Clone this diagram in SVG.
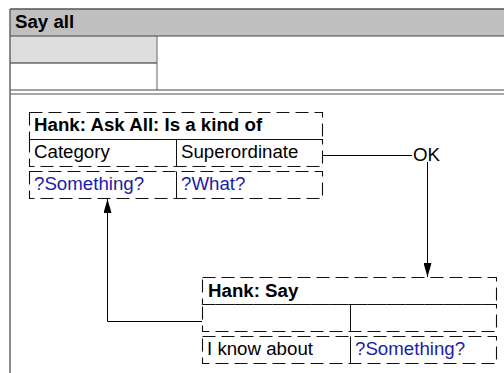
<svg xmlns="http://www.w3.org/2000/svg" width="504" height="373" viewBox="0 0 504 373">
<style>
text{font-family:"Liberation Sans",Arial,sans-serif;font-size:18.7px;fill:#000}
.b{font-weight:bold}
.v{fill:#1c1ca8}
.d{fill:none;stroke:#111;stroke-width:1.1;stroke-dasharray:13 6}
.s{fill:none;stroke:#111;stroke-width:1}
.c{fill:none;stroke:#000;stroke-width:1}
</style>
<defs>
<marker id="ah" viewBox="0 0 14 8" refX="14" refY="4" markerWidth="14" markerHeight="8" markerUnits="userSpaceOnUse" orient="auto">
<path d="M0,0 L14,4 L0,8 Z" fill="#000"/>
</marker>
</defs>
<rect width="504" height="373" fill="#fff"/>
<g id="frame">
<rect x="10" y="9" width="500" height="27" fill="#c0c0c0"/>
<rect x="10" y="36" width="147" height="27" fill="#dedede"/>
<line x1="10" y1="9" x2="510" y2="9" stroke="#555" stroke-width="1.5"/>
<line x1="10" y1="36" x2="510" y2="36" stroke="#444" stroke-width="1"/>
<line x1="10" y1="63" x2="157" y2="63" stroke="#222" stroke-width="1"/>
<line x1="157" y1="36" x2="157" y2="90" stroke="#666" stroke-width="1"/>
<line x1="10" y1="90" x2="510" y2="90" stroke="#444" stroke-width="1"/>
<line x1="10" y1="94" x2="510" y2="94" stroke="#888" stroke-width="1.5"/>
<line x1="10" y1="9" x2="10" y2="373" stroke="#666" stroke-width="1.5"/>
<text class="b" x="15" y="28">Say all</text>
</g>
<g id="node-askall">
<rect class="d" x="29.5" y="112.5" width="293" height="27"/>
<rect class="d" x="29.5" y="139.5" width="293" height="27"/>
<rect class="d" x="29.5" y="171.5" width="293" height="27"/>
<line class="s" x1="176.5" y1="139.5" x2="176.5" y2="166.5"/>
<line class="s" x1="176.5" y1="171.5" x2="176.5" y2="198.5"/>
<text class="b" x="34" y="131">Hank: Ask All: Is a kind of</text>
<text x="34" y="158">Category</text>
<text x="181" y="158">Superordinate</text>
<text class="v" x="34" y="190">?Something?</text>
<text class="v" x="181" y="190">?What?</text>
</g>
<g id="node-say">
<rect class="d" x="202.5" y="277.5" width="294" height="27"/>
<rect class="d" x="202.5" y="304.5" width="294" height="27"/>
<rect class="d" x="202.5" y="336.5" width="294" height="27"/>
<line class="s" x1="350.5" y1="304.5" x2="350.5" y2="331.5"/>
<line class="s" x1="350.5" y1="336.5" x2="350.5" y2="363.5"/>
<text class="b" x="208" y="297">Hank: Say</text>
<text x="207" y="355">I know about</text>
<text class="v" x="355" y="355">?Something?</text>
</g>
<g id="connectors">
<line class="c" x1="322" y1="155.5" x2="412" y2="155.5"/>
<text x="413" y="161">OK</text>
<line class="c" x1="427.5" y1="162" x2="427.5" y2="277" marker-end="url(#ah)"/>
<polyline class="c" points="202,321.5 107.5,321.5 107.5,199" marker-end="url(#ah)"/>
</g>
</svg>
